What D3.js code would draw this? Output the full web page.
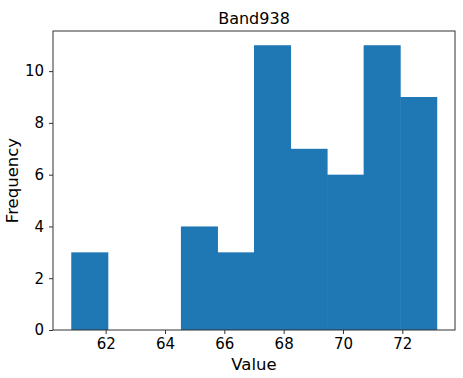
<!DOCTYPE html>
<html>
<head>
<meta charset="utf-8">
<script src="https://cdn.jsdelivr.net/npm/d3@7"></script>
<style>
  body { margin: 0; background: #fff; }
  text { font-family: "DejaVu Sans", sans-serif; fill: #000; }
</style>
</head>
<body>
<div id="chart"></div>
<script>
  "use strict";

  // Histogram of Band938, 10 equal bins between the min and max value
  var dataMin = 60.84;
  var dataMax = 73.16;
  var counts = [3, 0, 0, 4, 3, 11, 7, 6, 11, 9];
  var xTicks = [62, 64, 66, 68, 70, 72];
  var yTicks = [0, 2, 4, 6, 8, 10];

  var width = 463, height = 378;
  var margin = { top: 31, right: 8, bottom: 48, left: 53 };

  var svg = d3.select('#chart')
      .append('svg')
      .attr('width', width)
      .attr('height', height);

  var binWidth = (dataMax - dataMin) / counts.length;
  var bins = counts.map(function(c, i) {
    return { x0: dataMin + i * binWidth, x1: dataMin + (i + 1) * binWidth, count: c };
  });

  // matplotlib style 5% padding on x, y starts at 0
  var pad = (dataMax - dataMin) * 0.05;
  var x = d3.scaleLinear()
      .domain([dataMin - pad, dataMax + pad])
      .range([margin.left, width - margin.right]);
  var y = d3.scaleLinear()
      .domain([0, d3.max(counts) * 1.05])
      .range([height - margin.bottom, margin.top]);

  // small overlap so neighbouring bars show no seam
  svg.append('g')
    .selectAll('rect')
    .data(bins.filter(function(d) { return d.count > 0; }))
    .enter().append('rect')
      .attr('x', function(d) { return x(d.x0); })
      .attr('width', function(d) { return x(d.x1) - x(d.x0) + 0.5; })
      .attr('y', function(d) { return y(d.count); })
      .attr('height', function(d) { return y(0) - y(d.count); })
      .attr('fill', '#1f77b4');

  var xAxis = svg.append('g')
      .attr('transform', 'translate(0,' + (height - margin.bottom) + ')')
      .call(d3.axisBottom(x).tickValues(xTicks).tickSize(4).tickPadding(4));
  var yAxis = svg.append('g')
      .attr('transform', 'translate(' + margin.left + ',0)')
      .call(d3.axisLeft(y).tickValues(yTicks).tickSize(4).tickPadding(5));

  [xAxis, yAxis].forEach(function(g) {
    g.select('.domain').remove();
    g.selectAll('text').style('font-size', '15px').attr('fill', '#000');
    g.selectAll('line').attr('stroke', '#333');
  });

  // Frame
  svg.append('rect')
    .attr('x', margin.left)
    .attr('y', margin.top)
    .attr('width', width - margin.left - margin.right)
    .attr('height', height - margin.top - margin.bottom)
    .attr('fill', 'none')
    .attr('stroke', '#333')
    .attr('stroke-width', 1);

  svg.append('text')
    .attr('x', (margin.left + width - margin.right) / 2)
    .attr('y', 24)
    .attr('text-anchor', 'middle')
    .style('font-size', '16px')
    .text('Band938');

  svg.append('text')
    .attr('x', (margin.left + width - margin.right) / 2)
    .attr('y', 370)
    .attr('text-anchor', 'middle')
    .style('font-size', '16.5px')
    .text('Value');

  svg.append('text')
    .attr('transform', 'translate(18,' + ((margin.top + height - margin.bottom) / 2) + ') rotate(-90)')
    .attr('text-anchor', 'middle')
    .style('font-size', '16.5px')
    .text('Frequency');
</script>
</body>
</html>
